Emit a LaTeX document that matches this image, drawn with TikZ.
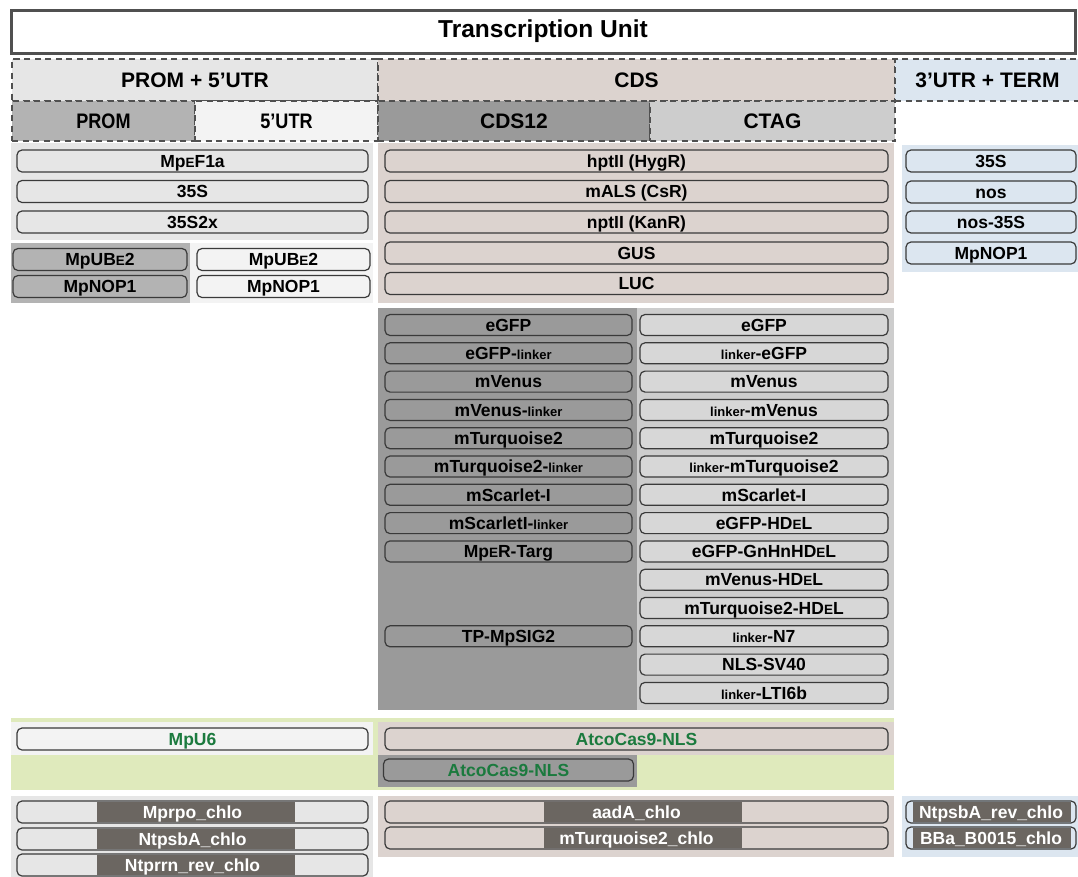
\documentclass[tikz,border=0pt]{standalone}
\usepackage{fontspec}
\setmainfont{Liberation Sans}
\usetikzlibrary{positioning}
\definecolor{tu}{HTML}{505050}
\definecolor{pl}{HTML}{3A3A3A}
\definecolor{pgr}{HTML}{E6E6E6}
\definecolor{pdk}{HTML}{B3B3B3}
\definecolor{plt}{HTML}{F3F3F3}
\definecolor{cbg}{HTML}{DCD3CF}
\definecolor{cdk}{HTML}{9A9A9A}
\definecolor{clt}{HTML}{CDCDCD}
\definecolor{tbl}{HTML}{DCE6F0}
\definecolor{grn}{HTML}{DFEABC}
\definecolor{gtx}{HTML}{1B7A3E}
\definecolor{chl}{HTML}{6B6661}
\newcommand{\sE}{{\fontsize{13.5}{14}\selectfont E}}
\newcommand{\lk}{{\fontsize{13}{14}\selectfont linker}}
\newcommand{\nrw}[1]{\scalebox{0.86}[1]{#1}}

\begin{document}
\begin{tikzpicture}[x=1pt,y=-1pt,
  title/.style={rectangle,draw=tu,line width=3pt,inner sep=0pt,minimum width=1064pt,minimum height=43pt,font=\fontsize{24.5}{27}\selectfont\bfseries},
  hdr/.style={rectangle,draw=tu,line width=2.8pt,dash pattern=on 6pt off 4.5pt,inner sep=0pt,font=\fontsize{21}{24}\selectfont\bfseries},
  panel/.style={rectangle,draw=none,inner sep=0pt},
  pill/.style={rectangle,rounded corners=5pt,draw=pl,line width=1.2pt,inner sep=0pt,minimum height=22pt,text height=12.5pt,text depth=0pt,font=\fontsize{17.5}{19}\selectfont\bfseries},
  chlo/.style={rectangle,fill=chl,inner sep=0pt,minimum height=20.5pt}]
\useasboundingbox (0,0) rectangle (1078,876);

% header
\node[title] (tu) at (543,31.5) {Transcription Unit};
\node[hdr,fill=pgr,minimum width=366pt,minimum height=42pt] (promutr) at (195,80) {PROM + 5’UTR};
\node[hdr,fill=cbg,minimum width=517pt,minimum height=42pt] (cds) at (636.5,80) {CDS};
\node[hdr,fill=tbl,minimum width=185pt,minimum height=42pt] (term) at (987.5,80) {3’UTR + TERM};
\node[hdr,fill=pdk,minimum width=183pt,minimum height=40pt] (prom) at (103.5,121) {\nrw{PROM}};
\node[hdr,fill=plt,minimum width=183pt,minimum height=40pt] (utr) at (286.5,121) {\nrw{5’UTR}};
\node[hdr,fill=cdk,minimum width=272pt,minimum height=40pt] (cds12) at (514,121) {CDS12};
\node[hdr,fill=clt,minimum width=245pt,minimum height=40pt] (ctag) at (772.5,121) {CTAG};

% background panels
\node[panel,fill=pgr,minimum width=362pt,minimum height=97pt] (pA) at (192,191.5) {};
\node[panel,fill=pdk,minimum width=179pt,minimum height=60pt] (pP) at (100.5,273) {};
\node[panel,fill=plt,minimum width=183pt,minimum height=60pt] (pU) at (281.5,273) {};
\node[panel,fill=cbg,minimum width=516pt,minimum height=160pt] (pC) at (636,223) {};
\node[panel,fill=tbl,minimum width=176pt,minimum height=127pt] (pT) at (990,208.5) {};
\node[panel,fill=cdk,minimum width=259pt,minimum height=402pt] (pE) at (507.5,509) {};
\node[panel,fill=clt,minimum width=257pt,minimum height=402pt] (pF) at (765.5,509) {};
\node[panel,fill=grn,minimum width=883pt,minimum height=72pt] (pG) at (452.5,754) {};
\node[panel,fill=plt,minimum width=362pt,minimum height=33pt] (pG1) at (192,738.5) {};
\node[panel,fill=cbg,minimum width=516pt,minimum height=33pt] (pG2) at (636,738.5) {};
\node[panel,fill=cdk,minimum width=259pt,minimum height=32pt] (pG3) at (507.5,771) {};
\node[panel,fill=pgr,minimum width=362pt,minimum height=82pt] (pH) at (192,837) {};
\node[panel,fill=cbg,minimum width=516pt,minimum height=61pt] (pI) at (636,826.5) {};
\node[panel,fill=tbl,minimum width=176pt,minimum height=61pt] (pJ) at (990,826.5) {};

% promoters
\foreach \n/\y/\t in {ef/161/Mp\sE F1a,p35s/191.5/35S,p35s2/222/35S2x}
  \node[pill,fill=pgr,minimum width=351pt] (\n) at (192.5,\y) {\t};
\foreach \n/\y/\t in {ubeP/259.5/MpUB\sE 2,nopP/286.5/MpNOP1}
  \node[pill,fill=pdk,minimum width=174pt] (\n) at (100,\y) {\t};
\foreach \n/\y/\t in {ubeU/259.5/MpUB\sE 2,nopU/286.5/MpNOP1}
  \node[pill,fill=plt,minimum width=173pt] (\n) at (283.5,\y) {\t};

% coding sequences
\foreach \n/\y/\t in {hpt/161/hptII (HygR),als/191.5/mALS (CsR),npt/222/nptII (KanR),gus/253/GUS,luc/283.5/LUC}
  \node[pill,fill=cbg,minimum width=503pt] (\n) at (636.5,\y) {\t};
\foreach \n/\i/\t in {gfpA/0/eGFP,gfpB/1/eGFP-\lk,venA/2/mVenus,venB/3/mVenus-\lk,turA/4/mTurquoise2,turB/5/mTurquoise2-\lk,scaA/6/mScarlet-I,scaB/7/mScarletI-\lk,ertarg/8/Mp\sE R-Targ,sig/11/TP-MpSIG2}
  \node[pill,fill=cdk,minimum width=247pt,minimum height=21pt] (\n) at (508.5,{325+28.3*\i}) {\t};
\foreach \n/\i/\t in {tgfpA/0/eGFP,tgfpB/1/\lk-eGFP,tvenA/2/mVenus,tvenB/3/\lk-mVenus,tturA/4/mTurquoise2,tturB/5/\lk-mTurquoise2,tscaA/6/mScarlet-I,hdelA/7/eGFP-HD\sE L,hdelB/8/eGFP-GnHnHD\sE L,hdelC/9/mVenus-HD\sE L,hdelD/10/mTurquoise2-HD\sE L,nsev/11/\lk-N7,nls/12/NLS-SV40,lti/13/\lk-LTI6b}
  \node[pill,fill=clt!80!white,minimum width=248pt,minimum height=21pt] (\n) at (764,{325+28.3*\i}) {\t};

% terminators
\foreach \n/\y/\t in {t35s/161/35S,nos/192/nos,nos35/222/nos-35S,tnop/253/MpNOP1}
  \node[pill,fill=tbl,minimum width=170pt] (\n) at (991,\y) {\t};

% Cas9
\node[pill,fill=plt,text=gtx,minimum width=351pt] (u6) at (192.5,739) {MpU6};
\node[pill,fill=cbg,text=gtx,minimum width=503pt] (casA) at (636.5,739) {AtcoCas9-NLS};
\node[pill,fill=cdk,text=gtx,minimum width=250pt] (casB) at (508.5,770) {AtcoCas9-NLS};

% chloroplast parts
\foreach \n/\y/\t in {rpo/812/Mprpo\_chlo,psbA/839/NtpsbA\_chlo,prrn/865/Ntprrn\_rev\_chlo} {
  \node[pill,draw=none,fill=pgr,minimum width=351pt] (\n) at (192.5,\y) {};
  \node[chlo,minimum width=198pt] (\n-d) at (196,\y) {};
  \node[pill,text=white,minimum width=351pt] (\n-t) at (\n) {\t};
}
\foreach \n/\y/\t in {aad/812/aadA\_chlo,turc/838/mTurquoise2\_chlo} {
  \node[pill,draw=none,fill=cbg,minimum width=503pt] (\n) at (636.5,\y) {};
  \node[chlo,minimum width=198pt] (\n-d) at (643,\y) {};
  \node[pill,text=white,minimum width=503pt] (\n-t) at (\n) {\t};
}
\foreach \n/\y/\t in {psbR/812/NtpsbA\_rev\_chlo,bba/838/BBa\_B0015\_chlo} {
  \node[pill,draw=none,fill=tbl,minimum width=170pt] (\n) at (991,\y) {};
  \node[chlo,minimum width=158pt] (\n-d) at (992,\y) {};
  \node[pill,text=white,minimum width=170pt] (\n-t) at (\n) {\t};
}
\end{tikzpicture}
\end{document}
